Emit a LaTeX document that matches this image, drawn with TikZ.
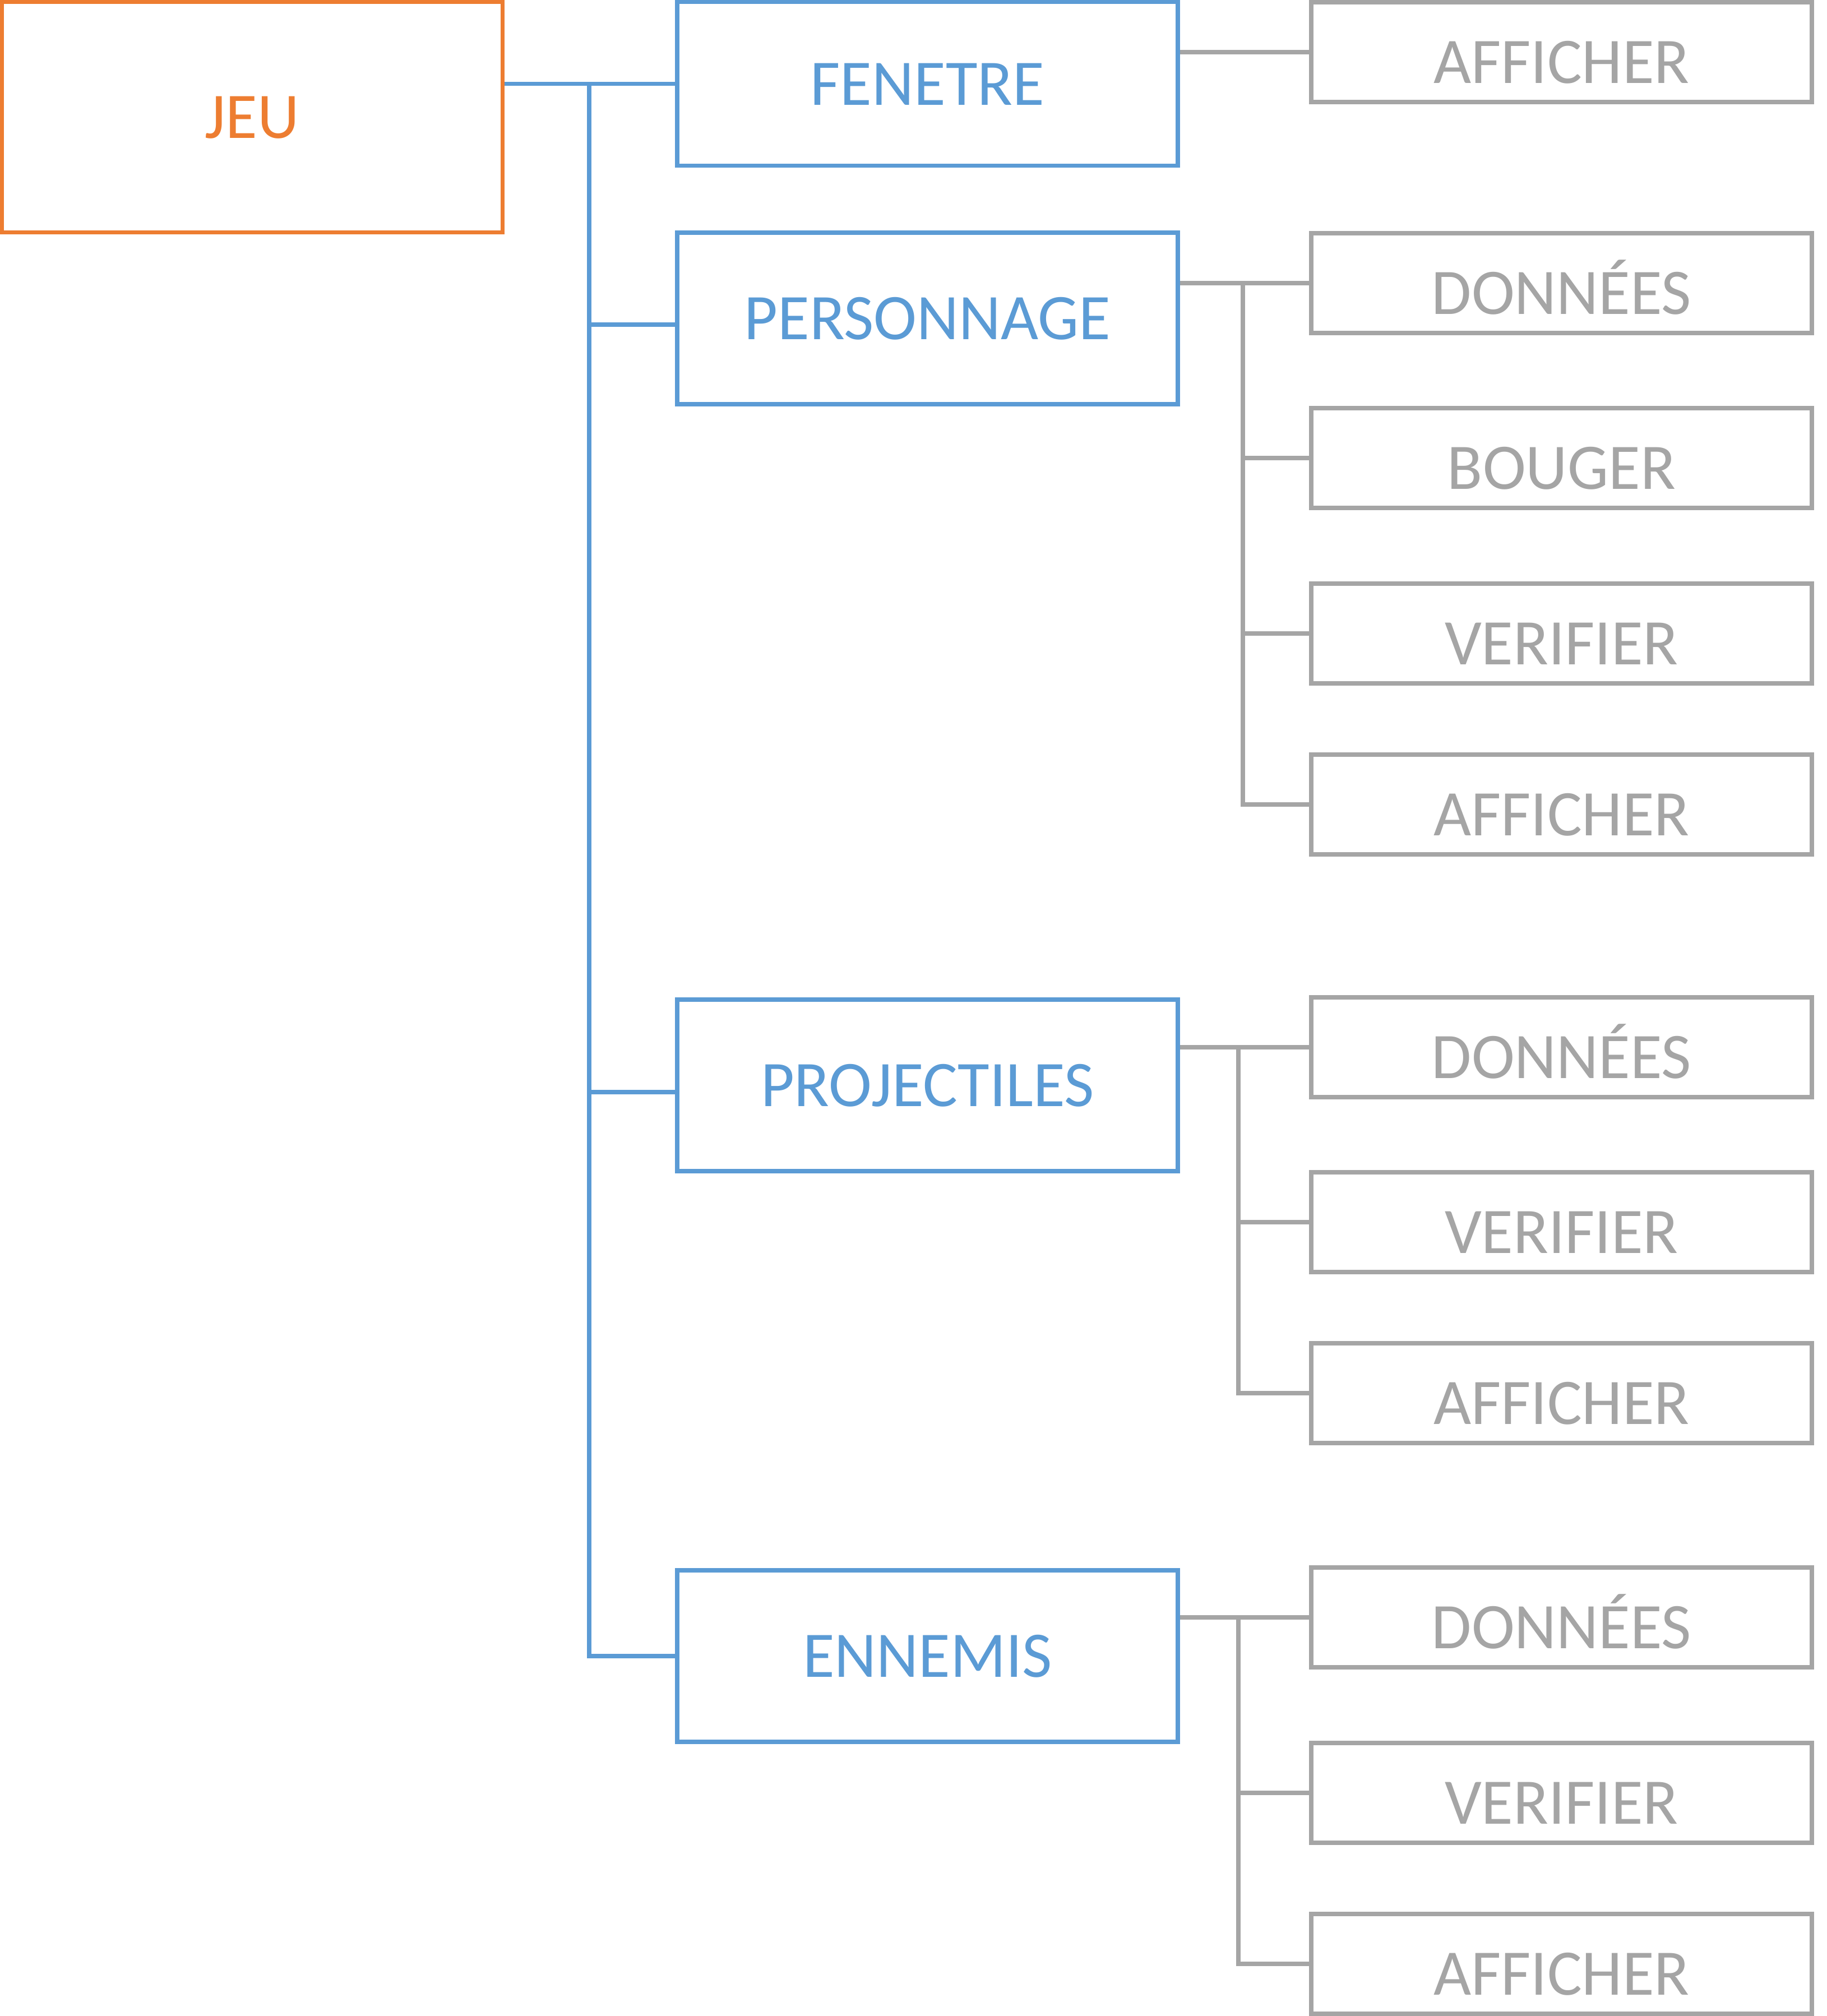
\documentclass[tikz,border=0pt]{standalone}
\usepackage{fontspec}
\setmainfont{Carlito}
\definecolor{orangejeu}{HTML}{ED7D31}
\definecolor{bleumodule}{HTML}{5B9BD5}
\definecolor{grisfonction}{HTML}{A5A5A5}

\begin{document}
\begin{tikzpicture}[line width=0.075cm,
	boite/.style={draw, rectangle, inner sep=0pt, minimum width=8.93cm, font=\fontsize{33}{40}\selectfont},
	jeu/.style={boite, draw=orangejeu, text=orangejeu, minimum height=4.11cm, text height=0.74cm, text depth=0pt},
	module/.style={boite, draw=bleumodule, text=bleumodule, minimum height=3.06cm, text height=0.75cm, text depth=0pt},
	fonction/.style={boite, draw=grisfonction, text=grisfonction, minimum height=1.78cm, text height=1.10cm, text depth=0pt},
	lienbleu/.style={draw=bleumodule},
	liengris/.style={draw=grisfonction}]
					\useasboundingbox (0,0) rectangle (32.58,-35.96);

					\node [jeu] (jeu) at (4.50,-2.09) {JEU};

					\node [module, minimum height=2.92cm] (fenetre) at (16.545,-1.495) {FENETRE};
					\node [module] (personnage) at (16.545,-5.68) {PERSONNAGE};
					\node [module] (projectiles) at (16.545,-19.36) {PROJECTILES};
					\node [module] (ennemis) at (16.545,-29.54) {ENNEMIS};

					\node [fonction] (afficherF) at (27.855,-0.93) {AFFICHER};

					\node [fonction] (donneesP) at (27.855,-5.05) {DONNÉES};
					\node [fonction] (bouger) at (27.855,-8.17) {BOUGER};
					\node [fonction] (verifierP) at (27.855,-11.30) {VERIFIER};
					\node [fonction] (afficherP) at (27.855,-14.35) {AFFICHER};

					\node [fonction] (donneesPr) at (27.855,-18.68) {DONNÉES};
					\node [fonction] (verifierPr) at (27.855,-21.80) {VERIFIER};
					\node [fonction] (afficherPr) at (27.855,-24.85) {AFFICHER};

					\node [fonction] (donneesE) at (27.855,-28.85) {DONNÉES};
					\node [fonction] (verifierE) at (27.855,-31.98) {VERIFIER};
					\node [fonction] (afficherE) at (27.855,-35.03) {AFFICHER};

					\coordinate (tronc) at (10.51,0);
					\coordinate (entreeP) at ([yshift=-0.11cm]personnage.west);
					\coordinate (entreePr) at ([yshift=-0.12cm]projectiles.west);
					\draw [lienbleu] (jeu.east |- fenetre.west) -- (fenetre.west);
					\draw [lienbleu] (tronc |- fenetre.west) -- (tronc |- ennemis.west) -- (ennemis.west);
					\draw [lienbleu] (tronc |- entreeP) -- (entreeP);
					\draw [lienbleu] (tronc |- entreePr) -- (entreePr);

					\draw [liengris] (fenetre.east |- afficherF.west) -- (afficherF.west);

					\coordinate (brancheP) at (22.17,0);
					\draw [liengris] (personnage.east |- donneesP.west) -- (donneesP.west);
					\draw [liengris] (brancheP |- donneesP.west) -- (brancheP |- afficherP.west) -- (afficherP.west);
					\draw [liengris] (brancheP |- bouger.west) -- (bouger.west);
					\draw [liengris] (brancheP |- verifierP.west) -- (verifierP.west);

					\coordinate (branchePr) at (22.09,0);
					\draw [liengris] (projectiles.east |- donneesPr.west) -- (donneesPr.west);
					\draw [liengris] (branchePr |- donneesPr.west) -- (branchePr |- afficherPr.west) -- (afficherPr.west);
					\draw [liengris] (branchePr |- verifierPr.west) -- (verifierPr.west);

					\coordinate (brancheE) at (22.09,0);
					\draw [liengris] (ennemis.east |- donneesE.west) -- (donneesE.west);
					\draw [liengris] (brancheE |- donneesE.west) -- (brancheE |- afficherE.west) -- (afficherE.west);
					\draw [liengris] (brancheE |- verifierE.west) -- (verifierE.west);
				\end{tikzpicture}
\end{document}
